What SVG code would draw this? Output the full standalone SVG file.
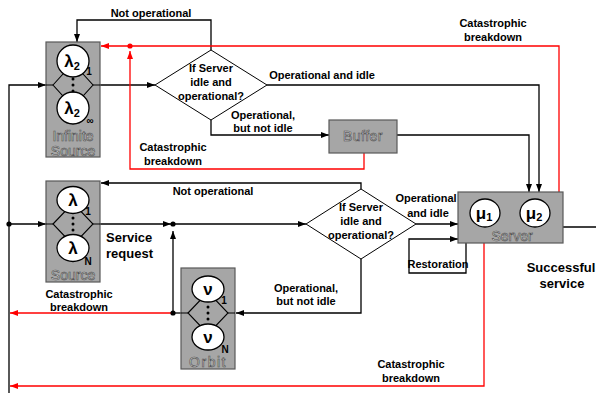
<svg xmlns="http://www.w3.org/2000/svg" width="596" height="393" viewBox="0 0 596 393">
<style>
.box{fill:#a6a6a6;stroke:#595959;stroke-width:1.2}
.ln{fill:none;stroke:#000;stroke-width:1.3}
.rd{fill:none;stroke:#ff0000;stroke-width:1.3}
.circ{fill:#fff;stroke:#000;stroke-width:1.3}
.dia{fill:#fff;stroke:#000;stroke-width:1}
.inner{fill:none;stroke:#000;stroke-width:1.1}
.lbl{font-family:"Liberation Sans",Arial,sans-serif;font-weight:bold;font-size:11px;fill:#000;text-anchor:middle}
.big{font-size:13px}
.sym{font-family:"Liberation Sans",Arial,sans-serif;font-weight:bold;font-size:17px;fill:#000;text-anchor:middle}
.sub{font-family:"Liberation Sans",Arial,sans-serif;font-weight:bold;font-size:10px;fill:#000;text-anchor:middle}
.name{font-family:"Liberation Sans",Arial,sans-serif;font-size:14px;fill:#f2f2f2;stroke:#505050;stroke-width:0.7;text-anchor:middle}
</style>
<defs>
<marker id="ab" viewBox="0 0 8 6" refX="8" refY="3" markerWidth="8" markerHeight="6" orient="auto" markerUnits="userSpaceOnUse"><path d="M0,0 L8,3 L0,6 z" fill="#000"/></marker>
<marker id="ar" viewBox="0 0 8 6" refX="8" refY="3" markerWidth="8" markerHeight="6" orient="auto" markerUnits="userSpaceOnUse"><path d="M0,0 L8,3 L0,6 z" fill="#ff0000"/></marker>
</defs>

<g id="connectors">
<path class="ln" d="M9,393 V85 H46" marker-end="url(#ab)"/>
<path class="ln" d="M9,224 H46" marker-end="url(#ab)"/>
<circle cx="9" cy="224" r="2.6" fill="#000"/>
<path class="ln" d="M100,85 H155" marker-end="url(#ab)"/>
<path class="ln" d="M211,50 V20 H77 V42" marker-end="url(#ab)"/>
<path class="ln" d="M267,85 H539 V192" marker-end="url(#ab)"/>
<path class="ln" d="M211,120 V135 H329" marker-end="url(#ab)"/>
<path class="ln" d="M397,135 H529 V192" marker-end="url(#ab)"/>
<path class="ln" d="M100,224 H171" marker-end="url(#ab)"/>
<path class="ln" d="M173,224 H306" marker-end="url(#ab)"/>
<circle cx="173" cy="224" r="2.6" fill="#000"/>
<path class="ln" d="M173,313 V231" marker-end="url(#ab)"/>
<path class="ln" d="M361,189 V183 H101" marker-end="url(#ab)"/>
<path class="ln" d="M416,224 H458" marker-end="url(#ab)"/>
<path class="ln" d="M361,259 V313 H236" marker-end="url(#ab)"/>
<path class="ln" d="M181,313 H173"/>
<path class="ln" d="M466,243 V273 H409 V239 H458" marker-end="url(#ab)"/>
<path class="ln" d="M563,227 H596"/>
<path class="rd" d="M559,192 V46 H101" marker-end="url(#ar)"/>
<circle cx="130" cy="46" r="2.6" fill="#ff0000"/>
<path class="rd" d="M364,153 V169 H130 V51" marker-end="url(#ar)"/>
<path class="rd" d="M173,313 H10" marker-end="url(#ar)"/>
<circle cx="173" cy="313" r="2.6" fill="#000"/>
<path class="rd" d="M484,243 V386 H10" marker-end="url(#ar)"/>
</g>

<g id="infinite-source">
<rect class="box" x="46" y="42" width="54" height="115"/>
<path class="inner" d="M46,85 H53 M93,85 H100"/>
<polygon class="inner" points="53,85 73,63 93,85 73,107"/>
<circle class="circ" cx="73" cy="61" r="16"/>
<circle class="circ" cx="73" cy="108" r="16"/>
<circle cx="73" cy="79" r="1.5"/><circle cx="73" cy="85" r="1.5"/><circle cx="73" cy="91" r="1.5"/>
<text class="sym" x="72" y="67">λ<tspan font-size="11" dy="3">2</tspan></text>
<text class="sym" x="72" y="114">λ<tspan font-size="11" dy="3">2</tspan></text>
<text class="sub" x="89" y="75">1</text>
<text class="sub" x="90" y="124">∞</text>
<text class="name" x="73" y="141">Infinite</text>
<text class="name" x="73" y="156">Source</text>
</g>

<g id="source">
<rect class="box" x="46" y="181" width="54" height="101"/>
<path class="inner" d="M46,224 H53 M93,224 H100"/>
<polygon class="inner" points="53,224 73,203 93,224 73,245"/>
<ellipse class="circ" cx="73" cy="200" rx="16" ry="13.5"/>
<ellipse class="circ" cx="73" cy="248" rx="16" ry="13.5"/>
<circle cx="73" cy="218" r="1.5"/><circle cx="73" cy="224" r="1.5"/><circle cx="73" cy="230" r="1.5"/>
<text class="sym" x="73" y="206">λ</text>
<text class="sym" x="73" y="254">λ</text>
<text class="sub" x="88" y="215">1</text>
<text class="sub" x="88" y="265">N</text>
<text class="name" x="73" y="280">Source</text>
</g>

<g id="orbit">
<rect class="box" x="181" y="268" width="54" height="101"/>
<path class="inner" d="M181,313 H188 M228,313 H235"/>
<polygon class="inner" points="188,313 208,292 228,313 208,334"/>
<ellipse class="circ" cx="208" cy="289" rx="16" ry="13"/>
<ellipse class="circ" cx="208" cy="337" rx="16" ry="13"/>
<circle cx="208" cy="307" r="1.5"/><circle cx="208" cy="313" r="1.5"/><circle cx="208" cy="319" r="1.5"/>
<text class="sym" x="208" y="295">ν</text>
<text class="sym" x="208" y="343">ν</text>
<text class="sub" x="224" y="304">1</text>
<text class="sub" x="225" y="353">N</text>
<text class="name" x="208" y="367" letter-spacing="1.5">Orbit</text>
</g>

<g id="buffer">
<rect class="box" x="329" y="120" width="68" height="33"/>
<text class="name" x="363" y="141" font-size="15" letter-spacing="0.5">Buffer</text>
</g>

<g id="server">
<rect class="box" x="458" y="192" width="105" height="51"/>
<ellipse class="circ" cx="485" cy="213" rx="15" ry="14"/>
<ellipse class="circ" cx="535" cy="213" rx="15" ry="14"/>
<text class="sym" x="484" y="219">μ<tspan font-size="11" dy="2">1</tspan></text>
<text class="sym" x="534" y="219">μ<tspan font-size="11" dy="2">2</tspan></text>
<text class="name" x="512" y="241">Server</text>
</g>

<g id="decision-1">
<polygon class="dia" points="155,85 211,50 267,85 211,120"/>
<text class="lbl" x="211" y="72">If Server</text>
<text class="lbl" x="211" y="86">idle and</text>
<text class="lbl" x="211" y="100">operational?</text>
</g>

<g id="decision-2">
<polygon class="dia" points="306,224 361,189 416,224 361,259"/>
<text class="lbl" x="361" y="211">If Server</text>
<text class="lbl" x="361" y="225">idle and</text>
<text class="lbl" x="361" y="239">operational?</text>
</g>

<g id="labels">
<text class="lbl" x="151" y="17">Not operational</text>
<text class="lbl" x="493" y="27">Catastrophic</text>
<text class="lbl" x="493" y="41">breakdown</text>
<text class="lbl" x="322" y="79">Operational and idle</text>
<text class="lbl" x="263" y="119">Operational,</text>
<text class="lbl" x="263" y="132">but not idle</text>
<text class="lbl" x="173" y="151">Catastrophic</text>
<text class="lbl" x="173" y="165">breakdown</text>
<text class="lbl" x="213" y="195">Not operational</text>
<text class="lbl big" x="106" y="242" style="text-anchor:start">Service</text>
<text class="lbl big" x="106" y="258" style="text-anchor:start">request</text>
<text class="lbl" x="426" y="202">Operational</text>
<text class="lbl" x="428" y="217">and idle</text>
<text class="lbl" x="438" y="268" font-size="10">Restoration</text>
<text class="lbl big" x="561" y="272">Successful</text>
<text class="lbl big" x="562" y="288">service</text>
<text class="lbl" x="79" y="298">Catastrophic</text>
<text class="lbl" x="79" y="311">breakdown</text>
<text class="lbl" x="306" y="292">Operational,</text>
<text class="lbl" x="306" y="305">but not idle</text>
<text class="lbl" x="411" y="368">Catastrophic</text>
<text class="lbl" x="411" y="382">breakdown</text>
</g>
</svg>
